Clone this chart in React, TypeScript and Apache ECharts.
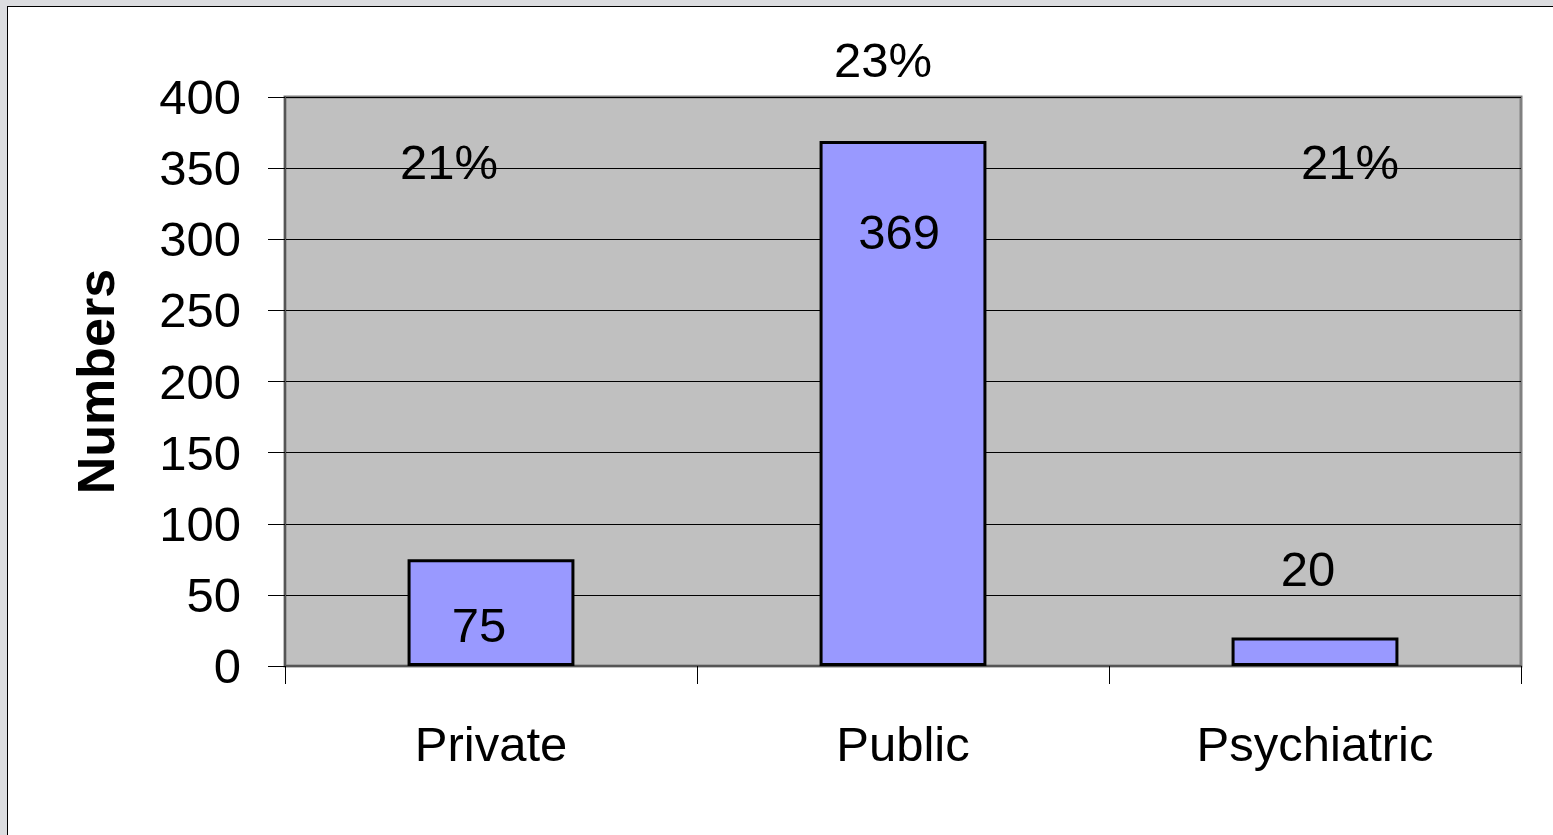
import React, { useEffect, useRef } from "react";
import * as echarts from "echarts";

const categories = ["Private", "Public", "Psychiatric"];
const counts = [75, 369, 20];
const percents = ["21%", "23%", "21%"];
const yTicks = { min: 0, max: 400, interval: 50 };

const FONT = "'Liberation Sans', Arial, sans-serif";

export default function App() {
  const ref = useRef<HTMLDivElement>(null);
  useEffect(() => {
    if (!ref.current) return;
    const chart = echarts.init(ref.current, null, { renderer: "svg" });
    const labelCfg = [
      { position: "inside", offset: [-12, 12] },
      { position: "insideTop", distance: 66, offset: [-4, 0] },
      { position: "top", distance: 44, offset: [-7, 0] },
    ];
    const pctPos = [
      [449, 162],
      [883, 60],
      [1350, 162],
    ];
    chart.setOption({
      animation: false,
      grid: {
        left: 285,
        top: 97,
        right: 32,
        bottom: 169,
        show: true,
        backgroundColor: "#C0C0C0",
        borderColor: "#808080",
        borderWidth: 3,
      },
      xAxis: {
        type: "category",
        data: categories,
        axisLine: { lineStyle: { color: "#555", width: 2 } },
        axisTick: { show: true, length: 18, lineStyle: { color: "#000", width: 1 } },
        axisLabel: { fontFamily: FONT, fontSize: 49, color: "#000", margin: 53 },
      },
      yAxis: {
        type: "value",
        min: yTicks.min,
        max: yTicks.max,
        interval: yTicks.interval,
        name: "Numbers",
        nameLocation: "middle",
        nameGap: 163,
        nameRotate: 90,
        nameTextStyle: { fontFamily: FONT, fontSize: 52, fontWeight: "bold", color: "#000" },
        axisLine: { show: true, lineStyle: { color: "#555", width: 2 } },
        axisTick: { show: true, length: 17, lineStyle: { color: "#000", width: 1 } },
        axisLabel: { fontFamily: FONT, fontSize: 49, color: "#000", margin: 44, padding: [0, 0, 8, 0] },
        splitLine: { lineStyle: { color: "#000", width: 1 } },
      },
      series: [
        {
          type: "bar",
          barWidth: "40.5%",
          data: counts.map((v, i) => ({
            value: v,
            label: {
              show: true,
              fontFamily: FONT,
              fontSize: 49,
              color: "#000",
              ...labelCfg[i],
            },
          })),
          itemStyle: { color: "#9999FF", borderColor: "#000", borderWidth: 3 },
        },
      ],
      graphic: percents.map((p, i) => ({
        type: "text",
        x: pctPos[i][0],
        y: pctPos[i][1],
        style: {
          text: p,
          fontFamily: FONT,
          fontSize: 49,
          fill: "#000",
          textAlign: "center",
          textVerticalAlign: "middle",
        },
        z: 100,
      })),
    });
    return () => chart.dispose();
  }, []);
  return (
    <div style={{ position: "fixed", left: 0, top: 0, width: 1553, height: 835, background: "#DCDDE0", overflow: "hidden" }}>
      <div
        style={{
          position: "absolute",
          left: 7,
          top: 6,
          width: 1580,
          height: 860,
          background: "#fff",
          border: "1px solid #000",
          boxSizing: "border-box",
        }}
      />
      <div ref={ref} style={{ position: "absolute", left: 0, top: 0, width: 1553, height: 835 }} />
    </div>
  );
}
